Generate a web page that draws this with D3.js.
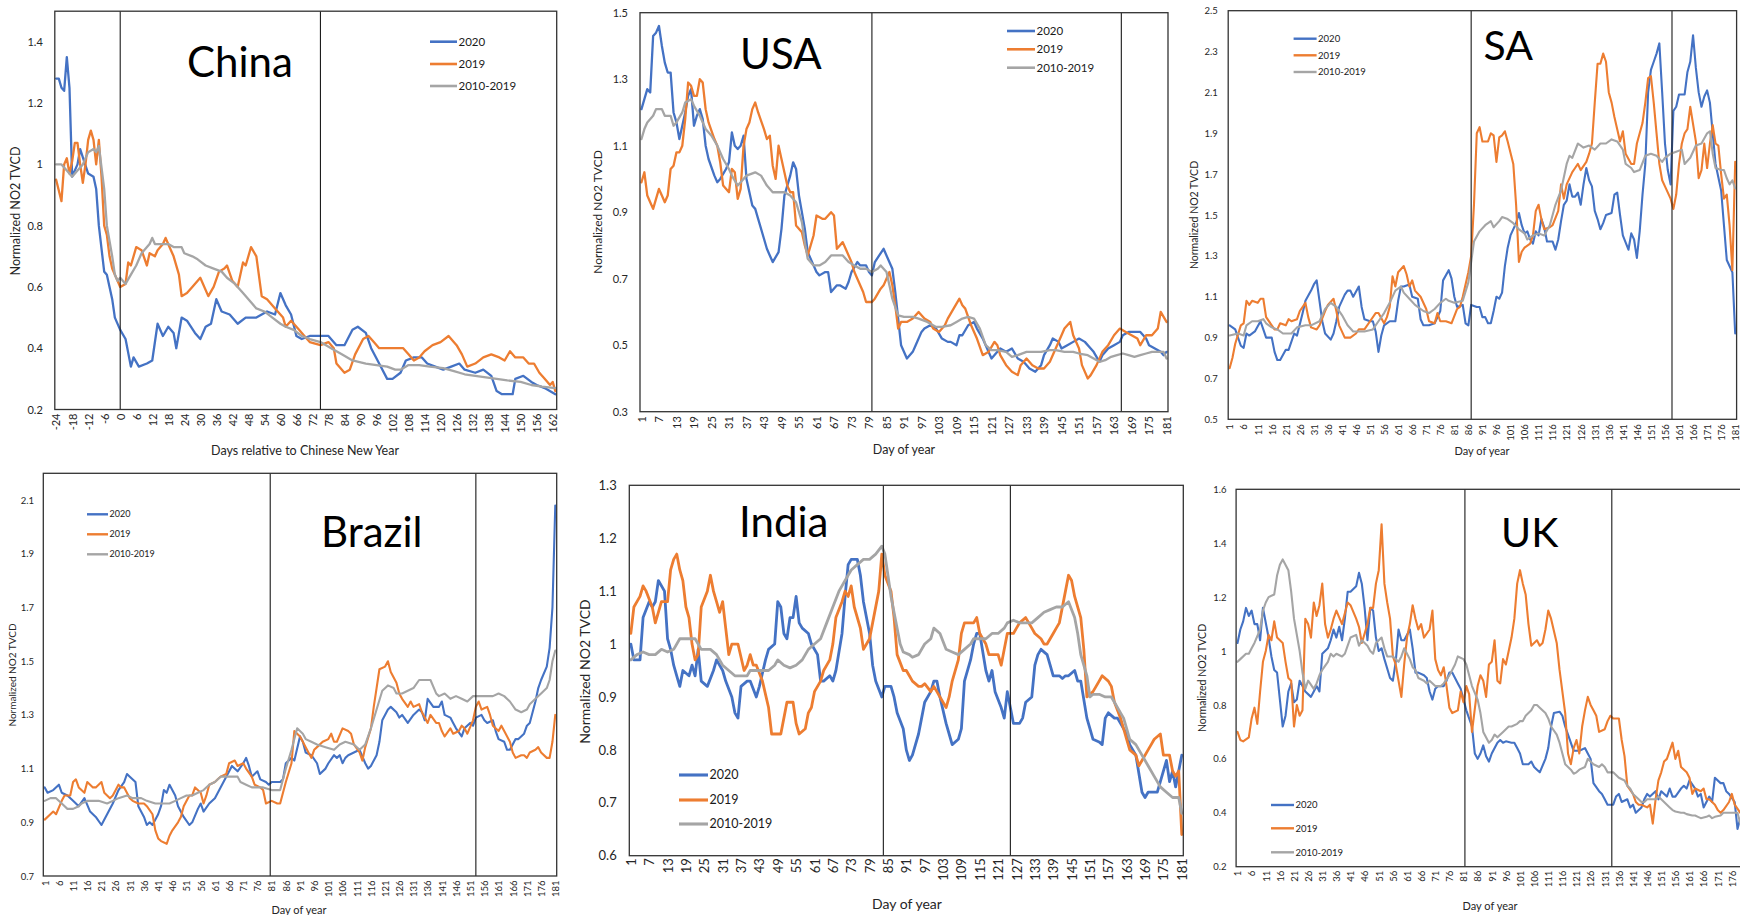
<!DOCTYPE html>
<html>
<head>
<meta charset="utf-8">
<script src="https://cdn.jsdelivr.net/npm/d3@7"></script>
<style>
  html, body { margin: 0; padding: 0; background: #fff; }
  svg { display: block; }
</style>
</head>
<body>
<script>
// ---- data ----
const seriesNames = ['2020', '2019', '2010-2019'];
const seriesColors = ['#4472C4', '#ED7D31', '#A5A5A5'];

// China: days relative to Chinese New Year
const chinaDays = [-24, 163];
const chinaXTicks = [-24, -18, -12, -6, 0, 6, 12, 18, 24, 30, 36, 42, 48, 54, 60, 66, 72, 78, 84, 90, 96, 102, 108, 114, 120, 126, 132, 138, 144, 150, 156, 162];
const chinaYTicks = [0.2, 0.4, 0.6, 0.8, 1, 1.2, 1.4];
const chinaLockdown = [0, 75];
const china2020 = [[-24,1.28],[-23,1.28],[-22,1.25],[-21,1.24],[-20,1.35],[-19,1.25],[-18,0.96],[-16,1.0],[-15,1.05],[-12,0.97],[-10,0.96],[-9,0.92],[-8,0.80],[-6,0.65],[-5,0.64],[-4,0.60],[-3,0.56],[-2,0.50],[0,0.46],[2,0.43],[4,0.34],[5,0.37],[7,0.34],[10,0.35],[12,0.36],[14,0.48],[16,0.44],[18,0.47],[20,0.45],[21,0.40],[23,0.50],[25,0.49],[28,0.45],[30,0.43],[32,0.47],[34,0.48],[36,0.56],[38,0.52],[41,0.51],[44,0.48],[47,0.50],[51,0.50],[55,0.52],[58,0.51],[60,0.58],[62,0.54],[64,0.51],[66,0.44],[68,0.43],[71,0.44],[75,0.44],[78,0.44],[81,0.41],[84,0.41],[87,0.46],[89,0.47],[92,0.45],[94,0.40],[97,0.35],[100,0.30],[102,0.30],[105,0.32],[107,0.36],[110,0.37],[113,0.37],[115,0.35],[118,0.34],[121,0.33],[124,0.34],[127,0.35],[129,0.33],[133,0.32],[136,0.33],[139,0.31],[141,0.26],[143,0.25],[147,0.25],[148,0.30],[151,0.31],[154,0.29],[156,0.28],[159,0.27],[163,0.25]];
const china2019 = [[-24,0.95],[-22,0.88],[-21,1.0],[-20,1.02],[-19,0.97],[-18,1.01],[-17,1.07],[-16,1.07],[-15,1.0],[-14,0.94],[-13,1.0],[-12,1.08],[-11,1.11],[-10,1.08],[-9,1.0],[-8,1.08],[-7,0.96],[-6,0.80],[-5,0.77],[-4,0.70],[-3,0.66],[-1,0.62],[0,0.60],[2,0.61],[3,0.68],[4,0.67],[6,0.73],[8,0.72],[10,0.67],[11,0.71],[13,0.70],[14,0.72],[16,0.74],[17,0.76],[19,0.72],[20,0.70],[22,0.64],[23,0.57],[25,0.58],[27,0.60],[30,0.63],[33,0.57],[35,0.60],[37,0.65],[39,0.66],[40,0.67],[42,0.62],[44,0.60],[46,0.68],[47,0.67],[49,0.73],[51,0.70],[53,0.57],[55,0.56],[58,0.53],[61,0.50],[62,0.47],[64,0.49],[67,0.46],[69,0.44],[71,0.42],[75,0.41],[78,0.42],[80,0.40],[81,0.35],[84,0.32],[86,0.33],[88,0.38],[91,0.43],[93,0.44],[95,0.42],[97,0.40],[102,0.40],[106,0.40],[108,0.38],[110,0.36],[112,0.37],[114,0.39],[117,0.41],[120,0.42],[123,0.44],[126,0.41],[128,0.38],[130,0.34],[133,0.35],[136,0.37],[139,0.38],[142,0.37],[144,0.36],[146,0.39],[148,0.37],[151,0.37],[153,0.35],[155,0.35],[157,0.32],[159,0.30],[161,0.28],[162,0.29],[163,0.26]];
const chinaAvg = [[-24,1.0],[-22,1.0],[-20,0.98],[-18,0.96],[-16,0.98],[-14,1.0],[-12,1.04],[-10,1.05],[-9,1.04],[-8,1.06],[-6,0.92],[-5,0.80],[-3,0.70],[-2,0.64],[-1,0.62],[0,0.63],[2,0.61],[4,0.64],[6,0.67],[8,0.71],[11,0.74],[12,0.76],[13,0.74],[15,0.74],[18,0.74],[20,0.73],[23,0.73],[24,0.71],[27,0.70],[29,0.69],[32,0.67],[35,0.66],[38,0.65],[40,0.63],[43,0.61],[46,0.58],[49,0.55],[51,0.53],[54,0.52],[57,0.50],[60,0.48],[62,0.47],[65,0.46],[68,0.44],[71,0.43],[75,0.42],[79,0.40],[83,0.38],[87,0.36],[92,0.35],[96,0.345],[100,0.34],[103,0.33],[105,0.33],[108,0.345],[112,0.345],[116,0.34],[121,0.335],[125,0.325],[129,0.315],[133,0.31],[137,0.305],[141,0.30],[145,0.295],[150,0.29],[154,0.28],[158,0.275],[163,0.27]];

// USA: day of year
const usaDays = [1, 181];
const usaXTicks = [1, 7, 13, 19, 25, 31, 37, 43, 49, 55, 61, 67, 73, 79, 85, 91, 97, 103, 109, 115, 121, 127, 133, 139, 145, 151, 157, 163, 169, 175, 181];
const usaYTicks = [0.3, 0.5, 0.7, 0.9, 1.1, 1.3, 1.5];
const usaLockdown = [80, 165.5];
const usa2020 = [[1,1.21],[2,1.24],[3,1.27],[4,1.26],[5,1.43],[6,1.44],[7,1.46],[8,1.40],[9,1.35],[10,1.32],[11,1.32],[12,1.20],[13,1.17],[14,1.12],[15,1.16],[16,1.20],[17,1.25],[18,1.27],[19,1.16],[20,1.19],[21,1.21],[22,1.18],[23,1.10],[24,1.06],[26,1.01],[27,0.99],[28,1.00],[30,1.03],[31,1.05],[32,1.14],[33,1.10],[34,1.09],[35,1.10],[36,1.13],[37,1.00],[39,0.92],[40,0.91],[41,0.88],[43,0.82],[44,0.79],[45,0.77],[46,0.75],[48,0.78],[49,0.85],[50,0.95],[52,1.01],[53,1.05],[54,1.03],[55,0.95],[57,0.85],[58,0.78],[60,0.74],[61,0.72],[62,0.71],[64,0.72],[65,0.72],[66,0.66],[68,0.68],[69,0.68],[71,0.67],[72,0.69],[73,0.72],[75,0.75],[76,0.74],[78,0.74],[79,0.72],[80,0.71],[81,0.75],[84,0.79],[85,0.77],[87,0.73],[88,0.66],[89,0.58],[90,0.50],[92,0.46],[94,0.48],[95,0.50],[97,0.54],[98,0.55],[100,0.56],[102,0.55],[104,0.52],[106,0.51],[107,0.51],[109,0.50],[110,0.53],[111,0.53],[113,0.56],[115,0.57],[116,0.55],[118,0.52],[119,0.50],[121,0.46],[123,0.48],[124,0.49],[126,0.48],[128,0.49],[130,0.46],[132,0.45],[134,0.43],[136,0.42],[138,0.44],[139,0.47],[141,0.50],[142,0.52],[144,0.51],[145,0.49],[147,0.50],[149,0.51],[151,0.52],[153,0.51],[155,0.49],[156,0.48],[158,0.45],[159,0.47],[161,0.49],[163,0.50],[165,0.51],[166,0.53],[168,0.54],[170,0.54],[172,0.54],[174,0.52],[175,0.50],[177,0.49],[179,0.48],[180,0.47],[181,0.48]];
const usa2019 = [[1,0.99],[2,1.02],[3,0.95],[4,0.93],[5,0.91],[7,0.97],[8,0.95],[9,0.93],[10,0.95],[11,1.03],[12,1.04],[13,1.08],[14,1.08],[15,1.10],[16,1.18],[17,1.29],[18,1.28],[19,1.25],[20,1.25],[21,1.30],[22,1.29],[23,1.21],[24,1.17],[26,1.12],[27,1.10],[28,1.05],[29,0.98],[31,0.96],[32,1.03],[33,1.02],[34,0.94],[35,0.97],[36,1.10],[37,1.15],[38,1.17],[39,1.21],[40,1.23],[41,1.20],[43,1.15],[44,1.12],[45,1.13],[46,1.04],[47,1.0],[48,1.10],[49,1.06],[50,1.02],[51,0.98],[52,0.96],[53,0.96],[54,0.86],[56,0.84],[57,0.80],[58,0.77],[60,0.83],[61,0.89],[63,0.88],[64,0.88],[66,0.90],[67,0.89],[68,0.79],[70,0.81],[71,0.79],[73,0.75],[74,0.72],[75,0.70],[77,0.66],[78,0.63],[80,0.63],[81,0.64],[83,0.67],[84,0.68],[86,0.72],[87,0.68],[88,0.62],[89,0.55],[90,0.57],[92,0.57],[94,0.58],[96,0.60],[98,0.58],[100,0.57],[101,0.55],[103,0.54],[105,0.56],[106,0.58],[108,0.61],[110,0.64],[111,0.62],[112,0.61],[114,0.56],[116,0.52],[118,0.47],[120,0.48],[122,0.51],[123,0.50],[124,0.47],[126,0.44],[128,0.42],[130,0.41],[131,0.44],[133,0.46],[135,0.44],[137,0.43],[139,0.43],[141,0.45],[143,0.49],[145,0.53],[146,0.55],[148,0.57],[149,0.53],[151,0.49],[152,0.44],[154,0.40],[155,0.41],[157,0.44],[159,0.48],[161,0.50],[163,0.53],[165,0.55],[167,0.54],[169,0.53],[171,0.52],[172,0.50],[174,0.53],[176,0.53],[178,0.55],[179,0.60],[181,0.57]];
const usaAvg = [[1,1.12],[2,1.15],[3,1.17],[5,1.19],[6,1.21],[8,1.21],[9,1.19],[11,1.19],[12,1.16],[13,1.17],[15,1.20],[16,1.23],[18,1.24],[19,1.22],[21,1.19],[23,1.15],[25,1.13],[27,1.10],[29,1.06],[31,1.03],[32,1.01],[34,0.98],[35,0.99],[37,1.01],[40,1.02],[42,1.01],[44,0.98],[46,0.96],[48,0.96],[50,0.96],[52,0.95],[54,0.93],[56,0.87],[57,0.81],[58,0.76],[60,0.74],[62,0.74],[64,0.75],[66,0.77],[68,0.77],[70,0.77],[72,0.75],[74,0.74],[76,0.73],[78,0.73],[80,0.72],[82,0.73],[83,0.74],[85,0.72],[86,0.68],[87,0.64],[89,0.59],[91,0.585],[94,0.585],[96,0.58],[99,0.57],[102,0.555],[104,0.555],[107,0.56],[109,0.57],[111,0.58],[113,0.585],[115,0.58],[117,0.55],[119,0.50],[121,0.485],[123,0.485],[126,0.48],[128,0.465],[130,0.47],[133,0.48],[136,0.48],[138,0.48],[141,0.485],[143,0.485],[146,0.48],[149,0.48],[151,0.475],[154,0.47],[156,0.46],[158,0.45],[160,0.455],[162,0.465],[164,0.47],[166,0.475],[168,0.47],[170,0.465],[172,0.47],[174,0.475],[176,0.48],[178,0.48],[180,0.48],[181,0.46]];

// SA
const saDays = [1, 181];
const saXTicks = [1, 6, 11, 16, 21, 26, 31, 36, 41, 46, 51, 56, 61, 66, 71, 76, 81, 86, 91, 96, 101, 106, 111, 116, 121, 126, 131, 136, 141, 146, 151, 156, 161, 166, 171, 176, 181];
const saYTicks = [0.5, 0.7, 0.9, 1.1, 1.3, 1.5, 1.7, 1.9, 2.1, 2.3, 2.5];
const saLockdown = [87, 158.5];
const sa2020 = [[1,0.96],[3,0.94],[5,0.86],[6,0.85],[7,0.92],[8,0.91],[10,0.93],[12,0.98],[13,0.94],[14,0.90],[16,0.90],[17,0.83],[18,0.79],[19,0.79],[21,0.84],[22,0.84],[24,0.92],[25,0.91],[27,1.02],[28,1.08],[30,1.13],[31,1.16],[32,1.18],[33,1.08],[34,0.98],[35,0.92],[37,0.89],[38,0.92],[39,0.98],[40,1.05],[42,1.11],[43,1.13],[44,1.13],[45,1.10],[47,1.15],[48,1.05],[49,0.99],[51,0.98],[52,0.98],[53,0.93],[54,0.83],[55,0.91],[56,0.96],[58,0.98],[60,0.98],[61,1.08],[62,1.15],[63,1.15],[65,1.16],[66,1.10],[68,1.09],[69,0.99],[70,0.96],[72,0.96],[74,0.97],[76,1.03],[77,1.18],[79,1.23],[80,1.19],[81,1.10],[82,1.05],[84,1.06],[85,0.97],[86,0.96],[87,1.06],[89,1.05],[90,1.05],[91,1.00],[92,1.00],[93,0.97],[94,0.97],[95,1.03],[96,1.10],[97,1.09],[98,1.12],[99,1.25],[100,1.34],[101,1.40],[103,1.46],[104,1.51],[105,1.45],[106,1.41],[107,1.42],[108,1.38],[109,1.36],[110,1.42],[111,1.40],[112,1.48],[113,1.44],[114,1.37],[116,1.37],[117,1.33],[118,1.38],[119,1.47],[120,1.55],[121,1.57],[122,1.65],[123,1.59],[124,1.59],[125,1.61],[126,1.55],[127,1.65],[128,1.73],[129,1.67],[130,1.64],[131,1.52],[132,1.48],[133,1.43],[134,1.46],[135,1.50],[137,1.51],[138,1.60],[139,1.61],[140,1.50],[141,1.40],[143,1.33],[144,1.41],[145,1.38],[146,1.29],[147,1.42],[148,1.60],[149,1.75],[150,2.10],[151,2.21],[152,2.25],[153,2.29],[154,2.34],[155,2.10],[156,1.85],[157,1.72],[158,1.65],[159,2.01],[160,2.03],[161,2.09],[163,2.09],[164,2.20],[165,2.25],[166,2.38],[167,2.22],[168,2.10],[169,2.03],[170,2.08],[171,2.11],[172,2.05],[173,1.90],[174,1.75],[176,1.62],[177,1.45],[178,1.28],[180,1.22],[181,0.92]];
const sa2019 = [[1,0.75],[2,0.80],[3,0.87],[5,0.96],[6,0.97],[7,1.08],[8,1.06],[9,1.08],[11,1.07],[12,1.09],[13,1.09],[14,1.00],[16,0.96],[17,0.94],[18,0.94],[19,0.97],[21,0.96],[22,0.99],[23,0.98],[25,0.99],[26,1.03],[28,1.07],[29,1.00],[30,0.95],[32,0.94],[33,0.96],[35,1.03],[36,1.06],[38,1.09],[39,1.03],[40,0.96],[42,0.90],[44,0.90],[46,0.92],[47,0.94],[49,0.94],[51,0.98],[53,1.02],[54,1.02],[56,0.97],[57,1.00],[58,1.05],[59,1.20],[60,1.15],[61,1.22],[63,1.25],[64,1.21],[65,1.15],[66,1.18],[67,1.13],[69,1.10],[71,1.04],[72,0.98],[74,0.97],[75,1.02],[76,0.98],[78,0.98],[80,0.97],[82,1.04],[83,1.05],[84,1.10],[86,1.22],[87,1.30],[88,1.55],[89,1.90],[90,1.93],[91,1.86],[93,1.86],[94,1.90],[95,1.89],[96,1.76],[97,1.88],[98,1.89],[99,1.91],[100,1.86],[102,1.75],[103,1.55],[104,1.27],[105,1.32],[106,1.34],[108,1.36],[109,1.40],[110,1.52],[111,1.55],[112,1.48],[113,1.43],[115,1.44],[116,1.45],[118,1.52],[119,1.65],[120,1.58],[121,1.65],[123,1.71],[124,1.73],[125,1.75],[126,1.72],[128,1.76],[129,1.80],[130,1.85],[131,2.05],[132,2.24],[133,2.24],[134,2.29],[135,2.25],[136,2.10],[137,2.05],[138,1.98],[139,1.92],[140,1.86],[141,1.91],[142,1.80],[144,1.75],[145,1.75],[146,1.85],[148,1.95],[149,2.05],[150,2.17],[151,2.18],[152,2.05],[153,1.90],[154,1.75],[155,1.67],[156,1.64],[158,1.58],[159,1.53],[160,1.60],[161,1.75],[162,1.85],[163,1.90],[164,1.92],[165,2.03],[167,1.86],[168,1.68],[169,1.72],[170,1.85],[171,1.73],[172,1.85],[173,1.94],[174,1.85],[175,1.84],[176,1.70],[177,1.58],[178,1.60],[179,1.45],[180,1.23],[181,1.76]];
const saAvg = [[1,0.91],[4,0.92],[6,0.91],[7,0.96],[9,0.98],[11,0.98],[13,0.99],[14,0.97],[16,0.95],[18,0.94],[20,0.92],[23,0.92],[25,0.95],[28,0.96],[30,0.96],[33,0.98],[35,1.04],[37,1.07],[39,1.05],[41,1.01],[43,0.96],[45,0.93],[47,0.93],[49,0.93],[52,0.94],[54,0.98],[56,1.02],[58,1.07],[60,1.13],[62,1.15],[63,1.12],[65,1.09],[67,1.06],[70,1.03],[72,1.02],[74,1.04],[76,1.07],[78,1.09],[79,1.08],[81,1.07],[84,1.08],[86,1.17],[87,1.27],[88,1.37],[90,1.42],[92,1.45],[94,1.47],[95,1.44],[97,1.47],[98,1.49],[100,1.48],[102,1.46],[104,1.43],[106,1.41],[107,1.38],[109,1.40],[111,1.41],[113,1.40],[115,1.45],[117,1.55],[119,1.62],[121,1.75],[122,1.79],[123,1.78],[125,1.85],[127,1.83],[129,1.84],[131,1.82],[133,1.85],[135,1.85],[137,1.87],[139,1.86],[141,1.82],[142,1.75],[144,1.73],[145,1.71],[147,1.72],[149,1.79],[151,1.80],[153,1.79],[155,1.76],[156,1.78],[158,1.80],[160,1.81],[162,1.82],[163,1.75],[165,1.78],[167,1.84],[169,1.85],[171,1.90],[172,1.91],[173,1.80],[174,1.73],[176,1.72],[177,1.72],[178,1.68],[179,1.65],[180,1.67],[181,1.63]];

// Brazil
const brazilDays = [1, 181];
const brazilXTicks = saXTicks;
const brazilYTicks = [0.7, 0.9, 1.1, 1.3, 1.5, 1.7, 1.9, 2.1];
const brazilLockdown = [80.5, 153];
const brazil2020 = [[1,1.03],[2,1.01],[4,1.02],[6,1.04],[7,1.01],[9,1.00],[11,0.98],[13,0.96],[15,0.99],[17,0.94],[19,0.92],[21,0.89],[23,0.93],[25,0.97],[27,1.02],[29,1.05],[30,1.08],[31,1.07],[33,1.05],[34,0.96],[36,0.92],[37,0.89],[38,0.90],[39,0.89],[41,0.93],[42,0.96],[43,1.02],[44,1.01],[45,1.04],[47,1.00],[48,0.96],[50,0.92],[52,0.89],[53,0.90],[55,0.95],[56,0.97],[57,0.94],[59,0.97],[61,0.99],[63,1.03],[65,1.07],[67,1.11],[69,1.09],[71,1.12],[72,1.14],[73,1.11],[74,1.07],[76,1.09],[77,1.06],[79,1.05],[80,1.04],[81,1.05],[84,1.05],[85,1.06],[86,1.12],[88,1.14],[89,1.13],[91,1.22],[92,1.20],[93,1.16],[95,1.15],[97,1.12],[98,1.08],[100,1.10],[101,1.12],[103,1.15],[104,1.14],[105,1.15],[106,1.12],[107,1.14],[108,1.15],[110,1.16],[112,1.17],[114,1.12],[115,1.10],[116,1.11],[118,1.15],[119,1.20],[120,1.28],[122,1.32],[123,1.33],[125,1.31],[126,1.29],[127,1.30],[129,1.27],[131,1.30],[133,1.32],[134,1.31],[135,1.28],[136,1.36],[138,1.33],[140,1.33],[141,1.35],[142,1.30],[144,1.29],[145,1.27],[146,1.25],[148,1.22],[149,1.25],[151,1.27],[152,1.26],[153,1.29],[155,1.30],[156,1.28],[157,1.27],[159,1.28],[160,1.24],[161,1.21],[163,1.20],[164,1.17],[165,1.17],[167,1.21],[168,1.21],[170,1.23],[171,1.26],[172,1.27],[174,1.35],[175,1.40],[176,1.43],[178,1.48],[179,1.55],[180,1.70],[181,2.08]];
const brazil2019 = [[1,0.91],[3,0.93],[4,0.94],[5,0.93],[7,0.98],[8,1.00],[10,1.00],[11,1.05],[12,1.06],[13,1.03],[15,1.01],[16,1.05],[18,1.03],[19,1.03],[21,1.05],[22,1.01],[24,0.99],[25,1.00],[27,1.04],[28,1.03],[29,1.03],[31,0.99],[32,0.98],[34,0.97],[36,0.97],[37,0.96],[39,0.93],[40,0.87],[41,0.84],[42,0.83],[44,0.82],[45,0.85],[46,0.87],[48,0.90],[49,0.92],[50,0.96],[52,1.00],[53,1.00],[54,1.03],[56,1.01],[57,0.97],[58,1.00],[59,1.04],[61,1.05],[62,1.06],[63,1.07],[65,1.08],[66,1.12],[68,1.13],[69,1.11],[71,1.12],[72,1.10],[74,1.07],[75,1.04],[77,1.03],[78,1.02],[79,0.97],[81,0.98],[83,0.97],[84,0.97],[86,1.05],[88,1.12],[89,1.24],[91,1.22],[92,1.20],[93,1.18],[95,1.14],[96,1.17],[97,1.18],[99,1.20],[101,1.21],[102,1.23],[103,1.20],[104,1.20],[106,1.25],[108,1.24],[109,1.23],[110,1.19],[112,1.16],[113,1.13],[114,1.18],[116,1.25],[117,1.33],[118,1.40],[119,1.47],[121,1.48],[122,1.50],[123,1.46],[125,1.42],[126,1.38],[127,1.36],[129,1.33],[130,1.35],[131,1.33],[133,1.34],[134,1.31],[135,1.29],[136,1.27],[137,1.30],[139,1.27],[140,1.27],[141,1.24],[142,1.22],[144,1.25],[145,1.23],[147,1.24],[148,1.26],[149,1.25],[150,1.23],[152,1.28],[153,1.33],[154,1.35],[155,1.32],[157,1.33],[158,1.30],[159,1.26],[161,1.24],[162,1.26],[163,1.24],[165,1.20],[166,1.16],[167,1.14],[169,1.15],[170,1.15],[171,1.14],[172,1.16],[174,1.17],[175,1.18],[176,1.16],[178,1.14],[179,1.14],[180,1.20],[181,1.30]];
const brazilAvg = [[1,0.98],[3,0.99],[5,0.99],[7,0.97],[9,0.95],[11,0.95],[13,0.96],[14,0.97],[16,0.98],[18,0.98],[20,0.98],[23,0.97],[25,0.98],[27,0.99],[30,1.00],[32,0.99],[35,0.99],[37,0.98],[40,0.97],[43,0.97],[45,0.97],[47,0.98],[49,0.99],[51,1.00],[53,1.00],[55,1.01],[57,1.02],[59,1.04],[61,1.05],[63,1.07],[65,1.07],[67,1.07],[69,1.07],[70,1.05],[72,1.04],[74,1.03],[77,1.03],[78,1.03],[81,1.02],[84,1.02],[86,1.10],[88,1.17],[90,1.25],[92,1.23],[93,1.21],[95,1.20],[97,1.19],[100,1.18],[103,1.17],[105,1.19],[107,1.20],[110,1.19],[112,1.17],[114,1.19],[116,1.25],[118,1.32],[120,1.39],[122,1.41],[124,1.40],[125,1.38],[127,1.38],[129,1.39],[131,1.40],[133,1.43],[135,1.43],[137,1.43],[139,1.38],[140,1.37],[142,1.38],[144,1.36],[146,1.37],[148,1.36],[150,1.35],[152,1.37],[154,1.37],[156,1.37],[159,1.37],[161,1.38],[163,1.37],[165,1.35],[167,1.32],[169,1.31],[171,1.32],[172,1.34],[174,1.36],[176,1.38],[178,1.40],[179,1.43],[180,1.50],[181,1.54]];

// India
const indiaDays = [1, 181];
const indiaXTicks = usaXTicks;
const indiaYTicks = [0.6, 0.7, 0.8, 0.9, 1, 1.1, 1.2, 1.3];
const indiaLockdown = [83.5, 125];
const india2020 = [[1,1.00],[2,0.97],[4,0.97],[5,1.05],[7,1.08],[8,1.07],[9,1.08],[10,1.12],[12,1.10],[13,1.01],[14,0.99],[15,0.96],[16,0.94],[17,0.92],[18,0.95],[20,0.94],[21,0.96],[22,0.94],[23,0.99],[24,0.93],[26,0.92],[28,0.95],[29,0.97],[31,0.95],[32,0.93],[34,0.90],[35,0.87],[36,0.86],[37,0.92],[39,0.93],[40,0.93],[42,0.90],[43,0.92],[45,0.97],[46,0.99],[48,1.00],[49,1.08],[50,1.07],[51,1.02],[52,1.01],[53,1.05],[54,1.05],[55,1.09],[56,1.04],[57,1.03],[59,1.02],[60,1.00],[62,0.98],[63,0.93],[64,0.93],[66,0.94],[67,0.93],[68,0.95],[70,1.02],[71,1.09],[72,1.15],[73,1.16],[75,1.16],[76,1.13],[77,1.08],[79,1.02],[80,0.96],[81,0.93],[83,0.90],[84,0.92],[86,0.92],[87,0.90],[88,0.87],[90,0.84],[91,0.80],[92,0.78],[93,0.79],[95,0.83],[96,0.86],[97,0.89],[99,0.91],[100,0.93],[101,0.93],[102,0.90],[104,0.85],[105,0.83],[106,0.81],[108,0.82],[109,0.84],[110,0.93],[112,0.97],[113,1.00],[114,1.02],[115,1.02],[117,0.95],[118,0.93],[119,0.95],[120,0.91],[122,0.88],[123,0.86],[124,0.91],[125,0.88],[126,0.85],[128,0.85],[129,0.86],[130,0.89],[132,0.90],[133,0.96],[134,0.98],[135,0.99],[137,0.98],[138,0.96],[139,0.94],[141,0.94],[142,0.935],[143,0.94],[144,0.94],[146,0.95],[147,0.93],[148,0.93],[150,0.86],[151,0.84],[152,0.82],[154,0.815],[155,0.81],[156,0.86],[157,0.87],[159,0.86],[160,0.86],[161,0.85],[163,0.83],[164,0.81],[165,0.80],[166,0.79],[168,0.72],[169,0.71],[170,0.72],[172,0.72],[173,0.72],[174,0.74],[176,0.78],[177,0.74],[178,0.76],[179,0.73],[180,0.76],[181,0.79]];
const india2019 = [[1,1.02],[2,1.07],[4,1.09],[5,1.11],[6,1.10],[8,1.07],[9,1.04],[10,1.06],[11,1.08],[13,1.08],[14,1.14],[15,1.16],[16,1.17],[17,1.14],[18,1.12],[19,1.07],[20,1.05],[21,1.00],[22,0.97],[23,0.98],[24,1.07],[26,1.10],[27,1.13],[28,1.10],[29,1.08],[30,1.06],[31,1.08],[32,1.03],[33,0.98],[34,1.00],[36,1.00],[38,0.95],[39,0.96],[40,0.98],[41,0.96],[42,0.96],[44,0.93],[46,0.88],[47,0.83],[48,0.83],[50,0.83],[51,0.86],[52,0.89],[53,0.89],[54,0.89],[55,0.85],[56,0.83],[58,0.84],[59,0.87],[60,0.88],[61,0.91],[63,0.93],[64,0.95],[66,0.97],[67,1.00],[68,1.05],[70,1.08],[71,1.10],[72,1.09],[73,1.11],[74,1.07],[76,1.03],[77,0.99],[78,1.00],[79,1.01],[80,1.04],[82,1.10],[83,1.17],[84,1.13],[86,1.10],[87,1.05],[88,0.98],[90,0.95],[91,0.95],[92,0.94],[93,0.93],[95,0.92],[96,0.92],[97,0.925],[99,0.91],[100,0.92],[101,0.91],[102,0.90],[104,0.88],[105,0.90],[106,0.93],[108,0.97],[109,1.02],[110,1.04],[112,1.04],[113,1.04],[114,1.05],[115,1.02],[117,1.00],[118,0.98],[119,0.98],[121,0.98],[122,0.96],[123,0.99],[124,1.02],[126,1.02],[127,1.03],[128,1.04],[130,1.05],[131,1.04],[132,1.03],[133,1.02],[135,1.01],[136,1.00],[137,1.00],[139,1.02],[140,1.03],[141,1.04],[143,1.10],[144,1.13],[145,1.12],[146,1.09],[148,1.05],[149,0.99],[150,0.90],[152,0.91],[153,0.92],[154,0.93],[155,0.94],[157,0.93],[158,0.92],[159,0.89],[161,0.86],[162,0.84],[163,0.82],[164,0.80],[166,0.79],[167,0.77],[168,0.78],[170,0.80],[171,0.81],[172,0.82],[174,0.83],[175,0.79],[177,0.79],[178,0.76],[179,0.75],[180,0.76],[181,0.64]];
const indiaAvg = [[1,0.97],[3,0.98],[5,0.985],[7,0.98],[9,0.98],[11,0.99],[13,0.985],[15,0.99],[17,1.01],[18,1.01],[20,1.01],[22,1.01],[24,0.99],[26,0.99],[27,0.99],[29,0.98],[31,0.96],[33,0.95],[35,0.94],[37,0.94],[39,0.94],[40,0.95],[42,0.95],[44,0.95],[46,0.95],[48,0.96],[49,0.97],[51,0.96],[53,0.955],[55,0.96],[57,0.97],[59,0.99],[61,1.00],[63,1.01],[65,1.04],[67,1.07],[69,1.10],[71,1.12],[73,1.14],[75,1.15],[77,1.16],[79,1.16],[81,1.17],[83,1.185],[84,1.17],[85,1.13],[86,1.09],[88,1.03],[89,1.00],[90,0.985],[92,0.98],[93,0.975],[95,0.98],[97,1.00],[99,1.01],[100,1.03],[102,1.02],[104,0.99],[106,0.985],[108,0.98],[110,0.99],[112,1.00],[113,1.01],[115,1.01],[117,1.01],[119,1.02],[121,1.02],[123,1.03],[124,1.04],[126,1.045],[128,1.04],[130,1.04],[132,1.04],[134,1.05],[136,1.06],[138,1.065],[140,1.07],[142,1.07],[144,1.08],[146,1.05],[147,1.02],[148,0.98],[150,0.94],[151,0.90],[152,0.905],[154,0.905],[156,0.90],[158,0.90],[159,0.89],[161,0.87],[162,0.86],[163,0.84],[164,0.82],[166,0.81],[168,0.79],[170,0.77],[172,0.75],[174,0.73],[176,0.72],[178,0.71],[179,0.71],[180,0.71],[181,0.68]];

// UK
const ukDays = [1, 181];
const ukXTicks = saXTicks;
const ukYTicks = [0.2, 0.4, 0.6, 0.8, 1, 1.2, 1.4, 1.6];
const ukLockdown = [81.5, 133.5];
const uk2020 = [[1,1.03],[2,1.08],[3,1.11],[4,1.16],[5,1.13],[6,1.15],[7,1.10],[8,1.10],[9,1.04],[10,1.16],[12,1.05],[13,0.98],[14,0.93],[15,0.92],[16,0.82],[17,0.72],[18,0.76],[19,0.85],[20,0.88],[21,0.81],[22,0.82],[23,0.89],[24,0.87],[25,0.85],[27,0.83],[28,0.85],[29,0.87],[30,0.85],[31,0.99],[33,1.01],[34,1.04],[35,1.08],[36,1.05],[37,1.09],[38,1.04],[39,1.12],[40,1.22],[41,1.22],[43,1.24],[44,1.29],[45,1.25],[46,1.16],[47,1.04],[48,1.16],[49,1.15],[50,1.05],[51,1.00],[52,1.01],[53,0.97],[55,0.90],[56,0.89],[57,0.96],[58,1.08],[59,1.04],[60,1.04],[62,1.08],[63,1.01],[64,0.92],[65,0.92],[67,0.91],[68,0.90],[69,0.85],[70,0.82],[71,0.86],[72,0.87],[74,0.87],[75,0.89],[76,0.92],[77,0.92],[79,0.88],[80,0.86],[81,0.82],[82,0.78],[84,0.72],[85,0.62],[86,0.60],[87,0.62],[88,0.65],[89,0.61],[90,0.59],[91,0.62],[93,0.66],[94,0.67],[95,0.66],[96,0.665],[98,0.66],[99,0.66],[100,0.64],[101,0.62],[102,0.58],[104,0.58],[105,0.59],[106,0.57],[107,0.56],[108,0.55],[110,0.60],[111,0.64],[112,0.72],[113,0.77],[115,0.775],[116,0.76],[117,0.72],[118,0.69],[120,0.63],[121,0.63],[122,0.63],[124,0.64],[125,0.62],[126,0.60],[127,0.51],[129,0.48],[130,0.47],[131,0.45],[132,0.43],[134,0.43],[135,0.46],[136,0.47],[137,0.44],[139,0.45],[140,0.42],[141,0.43],[142,0.40],[144,0.42],[145,0.45],[146,0.47],[147,0.46],[149,0.48],[150,0.45],[151,0.48],[153,0.46],[154,0.49],[155,0.46],[156,0.46],[158,0.49],[159,0.50],[160,0.49],[161,0.52],[163,0.49],[164,0.46],[165,0.47],[166,0.42],[168,0.46],[169,0.44],[170,0.53],[172,0.51],[173,0.51],[174,0.48],[175,0.47],[177,0.44],[178,0.34],[179,0.38]];
const uk2019 = [[1,0.70],[2,0.67],[3,0.665],[5,0.68],[6,0.75],[7,0.79],[8,0.73],[9,0.85],[10,0.96],[11,1.00],[12,1.06],[13,1.04],[14,1.11],[15,1.05],[16,1.04],[17,1.03],[18,0.96],[19,0.90],[20,0.89],[21,0.72],[22,0.80],[23,0.76],[24,0.78],[25,1.12],[26,1.10],[27,1.05],[28,1.18],[29,1.13],[30,1.17],[31,1.25],[32,1.10],[33,1.05],[34,1.08],[35,1.12],[36,1.15],[38,1.10],[39,1.14],[40,1.18],[41,1.17],[43,1.12],[44,1.09],[45,1.03],[47,1.10],[48,1.16],[49,1.16],[50,1.25],[51,1.30],[52,1.47],[53,1.25],[54,1.18],[55,1.12],[56,0.98],[57,0.95],[59,0.83],[60,0.95],[61,1.05],[62,1.10],[63,1.17],[64,1.12],[65,1.08],[66,1.10],[67,1.05],[69,1.08],[70,1.15],[71,0.97],[72,0.93],[73,0.91],[74,0.94],[75,0.87],[76,0.79],[77,0.77],[79,0.78],[80,0.85],[81,0.81],[82,0.87],[83,0.84],[84,0.70],[86,0.87],[87,0.91],[88,0.89],[89,0.83],[90,0.95],[91,0.96],[92,1.04],[93,0.89],[94,0.88],[95,0.97],[96,0.95],[98,1.05],[99,1.12],[100,1.25],[101,1.30],[102,1.25],[103,1.21],[104,1.10],[105,1.02],[107,1.04],[108,1.02],[109,1.03],[110,1.08],[111,1.15],[112,1.12],[114,1.03],[115,0.93],[117,0.77],[118,0.62],[119,0.58],[120,0.64],[121,0.67],[122,0.62],[123,0.72],[124,0.78],[125,0.83],[126,0.80],[127,0.78],[128,0.76],[129,0.70],[131,0.71],[132,0.74],[133,0.76],[134,0.75],[136,0.75],[137,0.67],[138,0.61],[139,0.50],[141,0.47],[142,0.44],[143,0.43],[144,0.43],[146,0.42],[147,0.43],[148,0.36],[149,0.45],[150,0.52],[151,0.55],[152,0.59],[153,0.60],[155,0.66],[156,0.60],[157,0.63],[158,0.57],[160,0.55],[161,0.53],[162,0.47],[163,0.49],[165,0.48],[166,0.49],[167,0.45],[168,0.45],[170,0.43],[171,0.41],[172,0.40],[173,0.41],[175,0.44],[176,0.47],[177,0.43],[179,0.40]];
const ukAvg = [[1,0.96],[2,0.97],[4,0.99],[5,0.99],[6,1.01],[7,1.03],[9,1.08],[10,1.15],[11,1.18],[12,1.20],[14,1.21],[15,1.28],[16,1.32],[17,1.34],[19,1.30],[20,1.22],[21,1.12],[23,1.00],[24,0.92],[25,0.86],[26,0.89],[28,0.86],[29,0.88],[30,0.91],[31,0.93],[33,0.96],[34,0.99],[35,0.98],[36,0.99],[38,0.98],[39,0.99],[40,1.02],[41,1.05],[43,1.06],[44,1.02],[45,1.04],[47,1.02],[48,1.00],[49,0.99],[50,1.03],[52,1.05],[53,1.01],[54,0.98],[56,0.98],[58,0.96],[59,0.98],[60,1.01],[62,0.97],[63,0.94],[64,0.93],[65,0.90],[67,0.89],[68,0.88],[69,0.89],[71,0.87],[72,0.87],[73,0.87],[74,0.88],[76,0.91],[77,0.93],[78,0.95],[79,0.98],[81,0.97],[82,0.95],[83,0.91],[84,0.87],[86,0.82],[87,0.77],[88,0.70],[90,0.66],[91,0.67],[92,0.69],[93,0.68],[95,0.70],[96,0.71],[97,0.72],[98,0.72],[100,0.73],[101,0.74],[102,0.74],[103,0.76],[105,0.78],[106,0.80],[107,0.80],[108,0.79],[110,0.77],[111,0.75],[112,0.72],[114,0.69],[115,0.66],[116,0.62],[117,0.58],[119,0.56],[120,0.545],[121,0.55],[122,0.56],[124,0.57],[125,0.60],[126,0.59],[127,0.58],[129,0.57],[130,0.58],[131,0.57],[132,0.55],[134,0.55],[135,0.54],[136,0.53],[138,0.52],[139,0.50],[140,0.49],[141,0.47],[143,0.45],[144,0.44],[145,0.44],[146,0.45],[148,0.45],[149,0.45],[150,0.46],[151,0.45],[153,0.43],[154,0.42],[155,0.41],[156,0.405],[158,0.40],[159,0.40],[160,0.395],[162,0.39],[163,0.39],[164,0.385],[165,0.38],[167,0.385],[168,0.39],[169,0.38],[170,0.385],[172,0.39],[173,0.40],[174,0.40],[175,0.40],[177,0.40],[178,0.40],[179,0.36]];

// ---- layout ----
const W = 1740, H = 915;
const FONT = "Lato, 'Open Sans', sans-serif";

const panels = [
  { title: 'China', days: chinaDays, xTicks: chinaXTicks, yTicks: chinaYTicks, yDomain: [0.2, 1.5],
    lockdown: chinaLockdown, series: [china2020, china2019, chinaAvg],
    left: 54.8, right: 556.7, top: 11.2, bottom: 409.5,
    tickFont: 11, yPad: 12, xGap: 4, lineW: 2.3,
    xTitle: 'Days relative to Chinese New Year', xTitleX: 305, xTitleY: 452, xTitleFont: 12.5,
    yTitleX: 17, yTitleY: 211, yTitleFont: 12.5,
    legX: 430, legLen: 27, legY: [41.7, 64, 86], legFont: 11.5,
    titleX: 187, titleY: 77, titleFont: 42 },
  { title: 'USA', days: usaDays, xTicks: usaXTicks, yTicks: usaYTicks, yDomain: [0.3, 1.5],
    lockdown: usaLockdown, series: [usa2020, usa2019, usaAvg],
    left: 640, right: 1168, top: 12.7, bottom: 411.7,
    tickFont: 11, yPad: 12, xGap: 4.5, lineW: 2.3,
    xTitle: 'Day of year', xTitleX: 904, xTitleY: 451, xTitleFont: 12.5,
    yTitleX: 599, yTitleY: 212, yTitleFont: 12,
    legX: 1007, legLen: 28, legY: [31, 49.3, 67.7], legFont: 11.5,
    titleX: 740, titleY: 69, titleFont: 42 },
  { title: 'SA', days: saDays, xTicks: saXTicks, yTicks: saYTicks, yDomain: [0.5, 2.5],
    lockdown: saLockdown, series: [sa2020, sa2019, saAvg],
    left: 1228.2, right: 1736.6, top: 10.7, bottom: 419.3,
    tickFont: 9.5, yPad: 10.5, xGap: 5, lineW: 2.1,
    xTitle: 'Day of year', xTitleX: 1482, xTitleY: 452, xTitleFont: 11,
    yTitleX: 1195, yTitleY: 215, yTitleFont: 10.5,
    legX: 1293.6, legLen: 23, legY: [38.7, 55.3, 72], legFont: 9.5,
    titleX: 1483.6, titleY: 60, titleFont: 41 },
  { title: 'Brazil', days: brazilDays, xTicks: brazilXTicks, yTicks: brazilYTicks, yDomain: [0.7, 2.2],
    lockdown: brazilLockdown, series: [brazil2020, brazil2019, brazilAvg],
    left: 43.3, right: 556.7, top: 473.3, bottom: 876,
    tickFont: 9.5, yPad: 9.3, xGap: 4.5, lineW: 2.1,
    xTitle: 'Day of year', xTitleX: 299, xTitleY: 911, xTitleFont: 11,
    yTitleX: 13, yTitleY: 675, yTitleFont: 10,
    legX: 87, legLen: 21, legY: [514.3, 534.3, 554.3], legFont: 9,
    titleX: 321, titleY: 547.3, titleFont: 42 },
  { title: 'India', days: indiaDays, xTicks: indiaXTicks, yTicks: indiaYTicks, yDomain: [0.6, 1.3],
    lockdown: indiaLockdown, series: [india2020, india2019, indiaAvg],
    left: 629.3, right: 1183.3, top: 485.3, bottom: 855.7,
    tickFont: 13, yPad: 12.6, xGap: 2.5, lineW: 2.8,
    xTitle: 'Day of year', xTitleX: 907, xTitleY: 905, xTitleFont: 14,
    yTitleX: 586.5, yTitleY: 671.5, yTitleFont: 14,
    legX: 679, legLen: 29, legY: [775, 800, 824], legFont: 12.5,
    titleX: 739, titleY: 537.3, titleFont: 42 },
  { title: 'UK', days: ukDays, xTicks: ukXTicks, yTicks: ukYTicks, yDomain: [0.2, 1.6],
    lockdown: ukLockdown, series: [uk2020, uk2019, ukAvg],
    left: 1236.1, right: 1747.4, top: 489.3, bottom: 866.7,
    tickFont: 9.5, yPad: 9.7, xGap: 4, lineW: 2.1,
    xTitle: 'Day of year', xTitleX: 1490, xTitleY: 907, xTitleFont: 11,
    yTitleX: 1203.5, yTitleY: 678, yTitleFont: 10.5,
    legX: 1271, legLen: 23, legY: [805, 828.3, 852.3], legFont: 9.5,
    titleX: 1501, titleY: 546.7, titleFont: 41 }
];

const svg = d3.select('body').append('svg')
  .attr('width', W)
  .attr('height', H)
  .style('font-family', FONT);

svg.append('rect').attr('width', W).attr('height', H).attr('fill', '#fff');

const fmt = d => String(+d.toFixed(2));

panels.forEach((p, pi) => {
  const x = d3.scaleLinear()
    .domain([p.days[0] - 0.5, p.days[1] + 0.5])
    .range([p.left, p.right]);
  const y = d3.scaleLinear()
    .domain(p.yDomain)
    .range([p.bottom, p.top]);

  const g = svg.append('g').attr('class', 'panel');

  const clipId = 'clip' + pi;
  g.append('clipPath').attr('id', clipId)
    .append('rect')
    .attr('x', p.left).attr('y', p.top)
    .attr('width', p.right - p.left).attr('height', p.bottom - p.top);

  const line = d3.line()
    .x(d => x(d[0]))
    .y(d => y(d[1]));

  p.series.forEach((s, i) => {
    g.append('path')
      .datum(s)
      .attr('clip-path', `url(#${clipId})`)
      .attr('d', line)
      .attr('fill', 'none')
      .attr('stroke', seriesColors[i])
      .attr('stroke-width', p.lineW)
      .attr('stroke-linejoin', 'round')
      .attr('stroke-linecap', 'round');
  });

  // lockdown markers
  g.selectAll('.lock')
    .data(p.lockdown)
    .enter().append('line')
    .attr('x1', d => x(d)).attr('x2', d => x(d))
    .attr('y1', p.top).attr('y2', p.bottom)
    .attr('stroke', '#1a1a1a')
    .attr('stroke-width', 1.1);

  // plot frame
  g.append('rect')
    .attr('x', p.left).attr('y', p.top)
    .attr('width', p.right - p.left).attr('height', p.bottom - p.top)
    .attr('fill', 'none')
    .attr('stroke', '#333')
    .attr('stroke-width', 1.3);

  // y axis
  const yAxis = g.append('g')
    .attr('transform', `translate(${p.left},0)`)
    .call(d3.axisLeft(y).tickValues(p.yTicks).tickSize(0).tickPadding(p.yPad).tickFormat(fmt));
  yAxis.select('.domain').remove();
  yAxis.attr('font-family', FONT).attr('font-size', p.tickFont);
  yAxis.selectAll('text').attr('fill', '#262626');

  // x axis, labels turned upright
  const xAxis = g.append('g')
    .attr('transform', `translate(0,${p.bottom})`)
    .call(d3.axisBottom(x).tickValues(p.xTicks).tickSize(0).tickFormat(d => d));
  xAxis.select('.domain').remove();
  xAxis.attr('font-family', FONT).attr('font-size', p.tickFont);
  xAxis.selectAll('text')
    .attr('fill', '#262626')
    .attr('transform', 'rotate(-90)')
    .attr('x', -p.xGap)
    .attr('y', 0)
    .attr('dy', '0.35em')
    .attr('text-anchor', 'end');

  // axis titles
  g.append('text')
    .attr('x', p.xTitleX).attr('y', p.xTitleY)
    .attr('text-anchor', 'middle')
    .attr('dominant-baseline', 'middle')
    .attr('font-size', p.xTitleFont)
    .attr('fill', '#262626')
    .text(p.xTitle);

  g.append('text')
    .attr('transform', `translate(${p.yTitleX},${p.yTitleY}) rotate(-90)`)
    .attr('text-anchor', 'middle')
    .attr('dominant-baseline', 'middle')
    .attr('font-size', p.yTitleFont)
    .attr('fill', '#262626')
    .text('Normalized NO2 TVCD');

  // legend
  const leg = g.selectAll('.leg')
    .data(seriesNames)
    .enter().append('g')
    .attr('transform', (d, i) => `translate(${p.legX},${p.legY[i]})`);
  leg.append('line')
    .attr('x1', 0).attr('x2', p.legLen)
    .attr('stroke', (d, i) => seriesColors[i])
    .attr('stroke-width', p.lineW + 0.3);
  leg.append('text')
    .attr('x', p.legLen + 1.5)
    .attr('dy', '0.35em')
    .attr('font-size', p.legFont)
    .attr('fill', '#1a1a1a')
    .text(d => d);

  // country name
  g.append('text')
    .attr('x', p.titleX).attr('y', p.titleY)
    .attr('font-size', p.titleFont)
    .attr('fill', '#000')
    .text(p.title);
});
</script>
</body>
</html>
